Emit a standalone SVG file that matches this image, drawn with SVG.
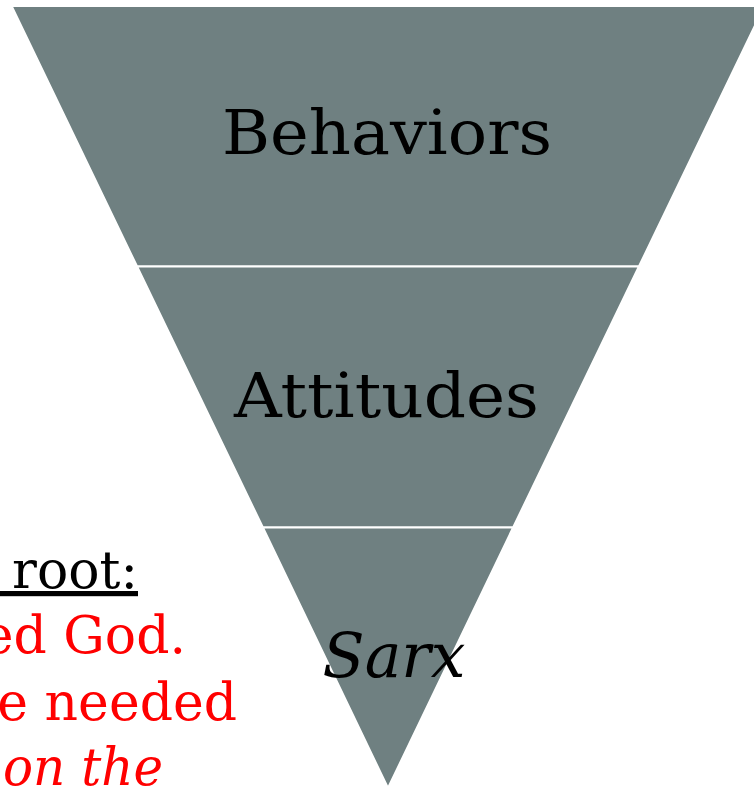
<svg xmlns="http://www.w3.org/2000/svg" width="754" height="789" viewBox="0 0 754 789">
<style>
.seg{fill:#6F8081;stroke:#FFFFFF;stroke-width:2;stroke-linejoin:miter}
.lbl{font-family:"DejaVu Serif","Liberation Serif",serif;font-size:61px;fill:#000;text-anchor:middle}
.side{font-family:"DejaVu Serif","Liberation Serif",serif;font-size:52px;text-anchor:end}
</style>
<rect width="754" height="789" fill="#FFFFFF"/>
<g id="behaviors">
<polygon class="seg" points="11.6,6 764.4,6 638.9,266.5 137.1,266.5"/>
<text class="lbl" x="387" y="154" textLength="330" lengthAdjust="spacingAndGlyphs">Behaviors</text>
</g>
<g id="attitudes">
<polygon class="seg" points="137.1,266.5 638.9,266.5 513.1,527.5 262.9,527.5"/>
<text class="lbl" x="386.5" y="417" textLength="305" lengthAdjust="spacingAndGlyphs">Attitudes</text>
</g>
<g id="sarx">
<polygon class="seg" points="262.9,527.5 513.1,527.5 388,788"/>
<text class="lbl" x="394" y="677" font-style="italic" textLength="143" lengthAdjust="spacingAndGlyphs">Sarx</text>
</g>
<g id="side-text">
<text class="side" x="138" y="588" fill="#000" text-decoration="underline" xml:space="preserve"> root:</text>
<text class="side" x="186" y="653" fill="#FF0000">ed God.</text>
<text class="side" x="237" y="720" fill="#FF0000">e needed</text>
<text class="side" x="163" y="785" fill="#FF0000" font-style="italic" textLength="160" lengthAdjust="spacingAndGlyphs">on the</text>
</g>
<g id="connectors"/>
</svg>
